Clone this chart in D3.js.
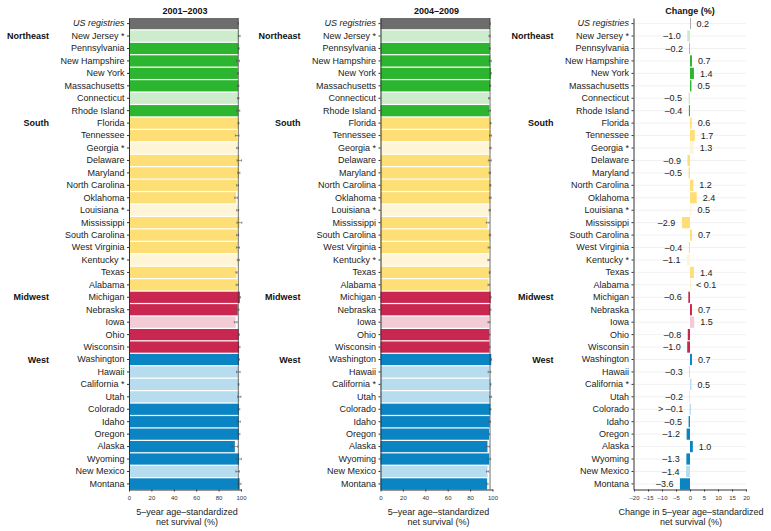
<!DOCTYPE html>
<html>
<head>
<meta charset="utf-8">
<script src="https://cdn.jsdelivr.net/npm/d3@7"></script>
<style>
  body { margin: 0; background: #fff; }
  svg { font-family: "Liberation Sans", Arial, sans-serif; }
</style>
</head>
<body>
<svg id="chart" width="771" height="531"></svg>
<script>
const states = [
  "US registries",
  "New Jersey *", "Pennsylvania", "New Hampshire", "New York", "Massachusetts", "Connecticut", "Rhode Island",
  "Florida", "Tennessee", "Georgia *", "Delaware", "Maryland", "North Carolina", "Oklahoma", "Louisiana *",
  "Mississippi", "South Carolina", "West Virginia", "Kentucky *", "Texas", "Alabama",
  "Michigan", "Nebraska", "Iowa", "Ohio", "Wisconsin",
  "Washington", "Hawaii", "California *", "Utah", "Colorado", "Idaho", "Oregon", "Alaska", "Wyoming",
  "New Mexico", "Montana"
];

// region of each row
const region = [
  "US",
  "Northeast", "Northeast", "Northeast", "Northeast", "Northeast", "Northeast", "Northeast",
  "South", "South", "South", "South", "South", "South", "South", "South",
  "South", "South", "South", "South", "South", "South",
  "Midwest", "Midwest", "Midwest", "Midwest", "Midwest",
  "West", "West", "West", "West", "West", "West", "West", "West", "West",
  "West", "West"
];

// rows drawn in the pale shade
const pale = [
  "New Jersey *", "Connecticut", "Georgia *", "Louisiana *", "Kentucky *",
  "Iowa", "Hawaii", "California *", "Utah", "New Mexico"
];

const regionLabels = ["Northeast", "South", "Midwest", "West"];

// 5-year net survival (%)
const surv0103 = [
  97.6,
  98.4, 97.8, 97.3, 97.2, 97.5, 97.5, 97.6,
  97.8, 96.6, 96.9, 98.5, 98.1, 96.9, 95.6, 97.0,
  98.6, 97.0, 97.3, 97.6, 96.0, 96.6,
  99.0, 97.1, 95.3, 98.0, 98.3,
  98.2, 97.6, 97.9, 98.5, 98.1, 98.0, 98.1, 94.5, 98.3,
  97.0, 98.8
];
const ci0103 = [
  0.2,
  0.8, 0.6, 1.4, 0.4, 0.6, 0.7, 1.3,
  0.4, 1.6, 0.8, 2.0, 0.9, 0.8, 1.2, 0.9,
  2.2, 0.9, 1.3, 0.9, 0.5, 0.9,
  0.6, 1.1, 1.2, 0.7, 0.8,
  0.5, 1.6, 0.3, 1.4, 0.8, 1.4, 0.9, 2.6, 2.0,
  1.6, 1.2
];
const surv0409 = [
  97.8,
  97.4, 97.6, 98.0, 98.6, 98.0, 97.0, 97.2,
  98.4, 98.3, 98.2, 97.6, 97.6, 98.1, 98.0, 97.5,
  95.7, 97.7, 96.9, 96.5, 97.4, 96.6,
  98.4, 97.8, 96.8, 97.2, 97.3,
  98.9, 97.3, 98.4, 98.3, 98.1, 97.5, 96.9, 95.5, 97.0,
  95.6, 95.2
];
const ci0409 = [
  0.1,
  0.5, 0.4, 0.9, 0.3, 0.4, 0.5, 0.9,
  0.3, 0.9, 0.6, 1.3, 0.6, 0.5, 0.8, 0.6,
  1.2, 0.6, 0.8, 0.6, 0.3, 0.6,
  0.4, 0.8, 0.8, 0.5, 0.5,
  0.3, 1.2, 0.2, 0.9, 0.5, 0.8, 0.6, 1.6, 1.3,
  1.0, 0.8
];
// change (percentage points)
const change = [
  0.2,
  -1.0, -0.2, 0.7, 1.4, 0.5, -0.5, -0.4,
  0.6, 1.7, 1.3, -0.9, -0.5, 1.2, 2.4, 0.5,
  -2.9, 0.7, -0.4, -1.1, 1.4, 0.04,
  -0.6, 0.7, 1.5, -0.8, -1.0,
  0.7, -0.3, 0.5, -0.2, -0.04, -0.5, -1.2, 1.0, -1.3,
  -1.4, -3.6
];

const survTicks = [0, 20, 40, 60, 80, 100];
const changeTicks = [-20, -15, -10, -5, 0, 5, 10, 15, 20];

const palette = {
  US: ["#6d6d6d", "#6d6d6d"],
  Northeast: ["#2cb52f", "#cdebcd"],
  South: ["#fddf75", "#fef5d6"],
  Midwest: ["#c92650", "#f2cbd7"],
  West: ["#0a84c2", "#b6dcee"]
};
const colorOf = (i) => palette[region[i]][pale.includes(states[i]) ? 1 : 0];

const svg = d3.select("#chart");
const y = d3.scaleBand(states, [18, 489.5]).paddingInner(0.1);
const yMid = (s) => y(s) + y.bandwidth() / 2;
const bottom = 489.5;
const minus = (s) => s.replace(/[-\u2212]/g, "\u2013");

function leftLabels(g, x0) {
  const ax = g.append("g")
    .attr("transform", `translate(${x0},0)`)
    .call(d3.axisLeft(y).tickSize(2).tickSizeOuter(0).tickPadding(2.5));
  ax.select(".domain").attr("stroke", "#333");
  ax.selectAll(".tick line").attr("stroke", "#333");
  ax.selectAll(".tick text")
    .attr("font-size", 9)
    .attr("fill", "#222")
    .attr("font-style", (d) => (d === "US registries" ? "italic" : null));

  g.selectAll(null)
    .data(regionLabels)
    .enter()
    .append("text")
    .attr("x", x0 - 80)
    .attr("y", (d) => yMid(states[region.indexOf(d)]))
    .attr("dy", "0.35em")
    .attr("text-anchor", "end")
    .attr("font-size", 9)
    .attr("font-weight", "bold")
    .attr("fill", "#111")
    .text((d) => d);
}

function bottomTitle(g, cx, lines) {
  g.selectAll(null)
    .data(lines)
    .enter()
    .append("text")
    .attr("x", cx)
    .attr("y", (d, i) => 514.5 + i * 10.5)
    .attr("text-anchor", "middle")
    .attr("font-size", 9)
    .attr("fill", "#222")
    .text((d) => d);
}

function panelTitle(g, cx, label) {
  g.append("text")
    .attr("x", cx)
    .attr("y", 14)
    .attr("text-anchor", "middle")
    .attr("font-size", 9)
    .attr("font-weight", "bold")
    .attr("fill", "#111")
    .text(label);
}

function survivalPanel(x0, title, values, ci) {
  const g = svg.append("g");
  const x = d3.scaleLinear([0, 100], [x0, x0 + 112]);

  g.selectAll(".bar")
    .data(values)
    .enter()
    .append("rect")
    .attr("x", x(0))
    .attr("y", (d, i) => y(states[i]))
    .attr("width", (d) => x(d) - x(0))
    .attr("height", y.bandwidth())
    .attr("fill", (d, i) => colorOf(i));

  // confidence intervals
  const err = g.selectAll(".err")
    .data(values)
    .enter()
    .append("g")
    .attr("stroke", "#555")
    .attr("stroke-width", 0.6);
  err.append("line")
    .attr("x1", (d, i) => x(d - ci[i]))
    .attr("x2", (d, i) => x(d + ci[i]))
    .attr("y1", (d, i) => yMid(states[i]))
    .attr("y2", (d, i) => yMid(states[i]));
  [-1, 1].forEach((s) => {
    err.append("line")
      .attr("x1", (d, i) => x(d + s * ci[i]))
      .attr("x2", (d, i) => x(d + s * ci[i]))
      .attr("y1", (d, i) => yMid(states[i]) - 1.2)
      .attr("y2", (d, i) => yMid(states[i]) + 1.2);
  });

  // US reference line
  g.append("line")
    .attr("x1", x(values[0]))
    .attr("x2", x(values[0]))
    .attr("y1", y.range()[0])
    .attr("y2", bottom)
    .attr("stroke", "#333")
    .attr("stroke-width", 0.7);

  const ax = g.append("g")
    .attr("transform", `translate(0,${bottom})`)
    .call(d3.axisBottom(x).tickValues(survTicks).tickSize(2).tickSizeOuter(0).tickPadding(4));
  ax.select(".domain").attr("stroke", "#333");
  ax.selectAll(".tick line").attr("stroke", "#333");
  ax.selectAll(".tick text").attr("font-size", 6).attr("fill", "#333");

  leftLabels(g, x0);
  panelTitle(g, x(50), title);
  bottomTitle(g, x(50) + 2, ["5\u2013year age\u2013standardized", "net survival (%)"]);
}

survivalPanel(129, "2001\u20132003", surv0103, ci0103);
survivalPanel(380.5, "2004\u20132009", surv0409, ci0409);

// change panel
{
  const g = svg.append("g");
  const x0 = 634;
  const x = d3.scaleLinear([-20, 20], [x0, x0 + 112]);

  g.selectAll(".grid")
    .data(states)
    .enter()
    .append("line")
    .attr("x1", x0)
    .attr("x2", x(20))
    .attr("y1", (d) => yMid(d))
    .attr("y2", (d) => yMid(d))
    .attr("stroke", "#ededed")
    .attr("stroke-width", 0.8);

  g.selectAll(".bar")
    .data(change)
    .enter()
    .append("rect")
    .attr("x", (d) => Math.min(x(0), x(d)))
    .attr("y", (d, i) => y(states[i]))
    .attr("width", (d) => Math.max(Math.abs(x(d) - x(0)), 0.4))
    .attr("height", y.bandwidth())
    .attr("fill", (d, i) => colorOf(i));

  const fmt = d3.format(".1f");
  g.selectAll(".val")
    .data(change)
    .enter()
    .append("text")
    .attr("x", (d) => (d >= 0 ? x(d) + 6 : x(d) - 6.5))
    .attr("y", (d, i) => yMid(states[i]))
    .attr("dy", "0.35em")
    .attr("text-anchor", (d) => (d >= 0 ? "start" : "end"))
    .attr("font-size", 9)
    .attr("fill", "#222")
    .text((d) => {
      if (Math.abs(d) < 0.1) return d > 0 ? "< 0.1" : "> \u20130.1";
      return minus(fmt(d));
    });

  const ax = g.append("g")
    .attr("transform", `translate(0,${bottom})`)
    .call(d3.axisBottom(x).tickValues(changeTicks).tickSize(2).tickSizeOuter(0).tickPadding(4)
      .tickFormat((d) => minus(String(d))));
  ax.select(".domain").attr("stroke", "#333");
  ax.selectAll(".tick line").attr("stroke", "#333");
  ax.selectAll(".tick text").attr("font-size", 6).attr("fill", "#333");

  leftLabels(g, x0 - 0.5);
  panelTitle(g, x(0), "Change (%)");
  bottomTitle(g, x(0) + 1, ["Change in 5\u2013year age\u2013standardized", "net survival (%)"]);
}
</script>
</body>
</html>
